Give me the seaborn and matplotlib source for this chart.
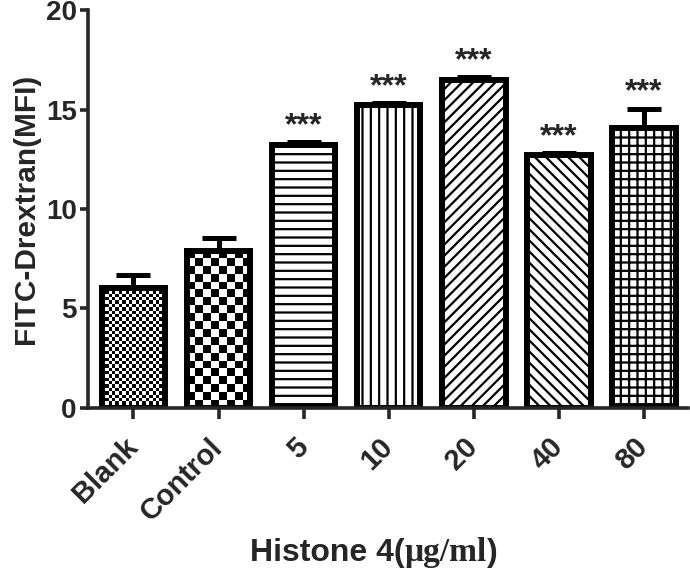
import numpy as np
import matplotlib
matplotlib.use('Agg')
import matplotlib.pyplot as plt
import seaborn as sns
from matplotlib.patches import Rectangle
from matplotlib.offsetbox import TextArea, HPacker, AnchoredOffsetbox

# data (mean and SEM)
groups = ['Blank', 'Control', '5', '10', '20', '40', '80']
means = [6.05, 7.9, 13.2, 15.25, 16.5, 12.7, 14.05]
sems = [0.65, 0.65, 0.15, 0.08, 0.12, 0.12, 1.0]
stars = ['', '', '***', '***', '***', '***', '***']
hatches = [None, None, '--', '||', '///', '\\\\\\', '++']
checker_px = [3.3, 8, None, None, None, None, None]

sns.set_style('ticks')
plt.rcParams['font.family'] = ['Liberation Sans', 'DejaVu Sans']
plt.rcParams['hatch.linewidth'] = 1.6
plt.rcParams['hatch.color'] = 'black'

fig = plt.figure(figsize=(6.9, 5.73), dpi=100)
ax = fig.add_axes([0.1275, 0.288, 0.8695, 0.6945])

sns.barplot(x=groups, y=means, color='white', edgecolor='black',
            linewidth=4.3, width=0.75, saturation=1, ax=ax, zorder=1)

ax.errorbar(range(len(groups)), means, yerr=[np.zeros(len(sems)), sems],
            fmt='none', ecolor='black', elinewidth=3.6, capsize=12,
            capthick=3.6, zorder=0.5)

ax.set_xlim(-0.535, 6.52)
ax.set_ylim(0, 20)
ax.set_yticks([0, 5, 10, 15, 20])

# patterns
for i, p in enumerate(ax.patches[:len(groups)]):
    if hatches[i]:
        p.set_hatch(hatches[i])
    elif checker_px[i]:
        x0, y0 = p.get_xy()
        w, h = p.get_width(), p.get_height()
        (px0, py0), (px1, py1) = ax.transData.transform([(x0, y0), (x0 + w, y0 + h)])
        nx = max(int(round((px1 - px0) / checker_px[i])), 1)
        ny = max(int(round((py1 - py0) / checker_px[i])), 1)
        board = (np.add.outer(np.arange(ny), np.arange(nx)) % 2).astype(float)
        im = ax.imshow(board, cmap='gray', extent=(x0, x0 + w, y0, y0 + h),
                       interpolation='nearest', aspect='auto', zorder=1.2)
        im.set_clip_path(p)
        ax.add_patch(Rectangle((x0, y0), w, h, fill=False, edgecolor='black',
                               linewidth=4.3, zorder=1.5))

ax.set_xlim(-0.535, 6.52)
ax.set_ylim(0, 20)

for i, s in enumerate(stars):
    if s:
        ax.text(i, means[i] + sems[i] + 0.4, s, ha='center', va='baseline',
                fontsize=23, fontweight='bold')

sns.despine(ax=ax)
for sp in ['left', 'bottom']:
    ax.spines[sp].set_linewidth(2.6)
ax.tick_params(axis='y', width=2.6, length=6, labelsize=20, pad=2)
ax.tick_params(axis='x', width=2.6, length=8, labelsize=21, pad=17)
for lab in ax.get_yticklabels():
    lab.set_fontweight('bold')
ax.set_xticks(range(len(groups)))
ax.set_xticklabels(groups, rotation=45, ha='right', va='center',
                   rotation_mode='anchor', fontweight='bold', fontsize=21)
ax.set_xlabel('')
ax.set_ylabel('FITC-Drextran(MFI)', fontsize=21.5, fontweight='bold', labelpad=4)

# x axis title with mixed fonts
parts = HPacker(children=[
    TextArea('Histone 4(', textprops=dict(fontsize=23, fontweight='bold')),
    TextArea('\u03bcg/ml', textprops=dict(fontsize=24, fontweight='bold', family='Liberation Serif')),
    TextArea(')', textprops=dict(fontsize=23, fontweight='bold')),
], align='baseline', pad=0, sep=0)
box = AnchoredOffsetbox(loc='center', child=parts, frameon=False,
                        bbox_to_anchor=(374 / 690, 1 - 553 / 573),
                        bbox_transform=fig.transFigure, borderpad=0, pad=0)
fig.add_artist(box)

fig.savefig('out.png', dpi=100)
